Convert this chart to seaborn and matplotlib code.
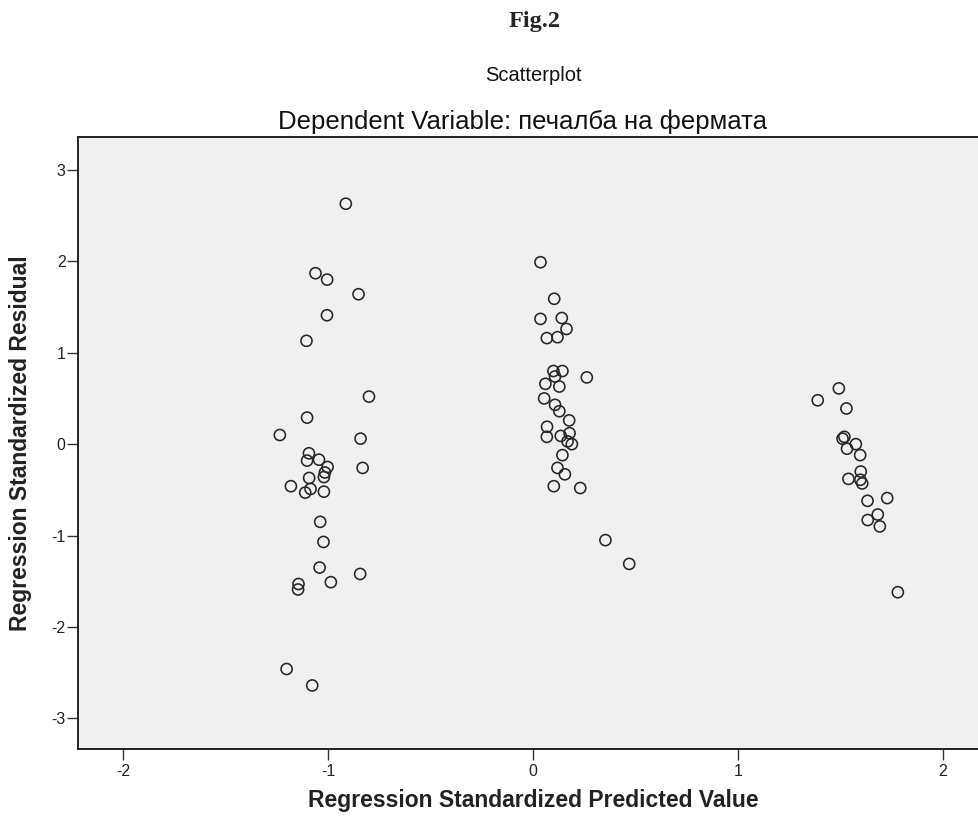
import matplotlib
matplotlib.use("Agg")
import matplotlib.pyplot as plt
import numpy as np
import pandas as pd
import seaborn as sns

# values, grouped by the three visible clusters
pred_low = [-0.914, -1.062, -1.005, -0.852, -1.006, -1.106, -0.801, -1.103, -1.236, -0.842,
            -1.094, -1.103, -1.045, -1.003, -1.016, -1.021, -1.093, -0.832, -1.182, -1.086,
            -1.112, -1.021, -1.039, -1.023, -1.042, -0.844, -0.987, -1.145, -1.147, -1.203, -1.078]
resid_low = [2.63, 1.87, 1.80, 1.64, 1.41, 1.13, 0.52, 0.29, 0.10, 0.06,
             -0.10, -0.18, -0.17, -0.25, -0.31, -0.36, -0.37, -0.26, -0.46, -0.49,
             -0.53, -0.52, -0.85, -1.07, -1.35, -1.42, -1.51, -1.53, -1.59, -2.46, -2.64]

pred_mid = [0.036, 0.103, 0.036, 0.140, 0.163, 0.067, 0.119, 0.099, 0.143, 0.262,
            0.107, 0.060, 0.128, 0.054, 0.107, 0.128, 0.176, 0.068, 0.067, 0.135,
            0.178, 0.168, 0.189, 0.143, 0.119, 0.155, 0.101, 0.230, 0.353, 0.469]
resid_mid = [1.99, 1.59, 1.37, 1.38, 1.26, 1.16, 1.17, 0.80, 0.80, 0.73,
             0.74, 0.66, 0.63, 0.50, 0.43, 0.36, 0.26, 0.19, 0.08, 0.09,
             0.12, 0.03, 0.00, -0.12, -0.26, -0.33, -0.46, -0.48, -1.05, -1.31]

pred_high = [1.492, 1.389, 1.529, 1.519, 1.510, 1.575, 1.532, 1.596, 1.599, 1.539,
             1.597, 1.606, 1.728, 1.632, 1.682, 1.633, 1.692, 1.780]
resid_high = [0.61, 0.48, 0.39, 0.08, 0.06, 0.00, -0.05, -0.12, -0.30, -0.38,
              -0.39, -0.43, -0.59, -0.62, -0.77, -0.83, -0.90, -1.62]

x_ticks = [-2, -1, 0, 1, 2]
y_ticks = [-3, -2, -1, 0, 1, 2, 3]

df = pd.DataFrame({
    "pred": pred_low + pred_mid + pred_high,
    "resid": resid_low + resid_mid + resid_high,
})

sns.set_style("white")
plt.rcParams['font.family'] = ['Liberation Sans', 'DejaVu Sans']
plt.rcParams['axes.unicode_minus'] = False

W, H = 979, 824
fig = plt.figure(figsize=(W / 100, H / 100), dpi=100)
ax = fig.add_axes([78 / W, 1 - 749 / H, 1 - 78 / W, (749 - 137) / H])
ax.set_facecolor("#f0f0f0")

sns.scatterplot(data=df, x="pred", y="resid", ax=ax, s=64,
                facecolor="none", edgecolor="#262626", linewidth=1.15)

ax.set_xlim(-2.221, 2.176)
ax.set_ylim(-3.335, 3.36)
ax.set_xticks(x_ticks)
ax.set_yticks(y_ticks)
ax.tick_params(axis="both", direction="out", length=8, width=1.0, color="#333333",
               labelsize=11.5, labelcolor="#222222", left=True, bottom=True)
ax.tick_params(axis="x", pad=3)
ax.tick_params(axis="y", pad=1)
for side in ["left", "bottom", "top"]:
    ax.spines[side].set_color("#222222")
    ax.spines[side].set_linewidth(1.4)
ax.spines["right"].set_visible(False)

ax.set_xlabel("Regression Standardized Predicted Value", fontsize=16.5,
              fontweight="bold", color="#222222")
ax.xaxis.set_label_coords((533 - 78) / 901, (749 - 789) / 612)
ax.set_ylabel("Regression Standardized Residual", fontsize=16.5,
              fontweight="bold", color="#222222")
ax.yaxis.set_label_coords((32 - 78) / 901, 0.5)

fig.text(535 / W, 1 - 27 / H, "Fig.2", fontsize=17.5, fontweight="bold",
         family=["Liberation Serif", "DejaVu Serif"], ha="center", va="baseline")
fig.text(533 / W, 1 - 81 / H, "Scatterplot", fontsize=14.5, ha="center", va="baseline",
         color="#111111")
fig.text(522 / W, 1 - 129 / H, "Dependent Variable: печалба на фермата", fontsize=18.5,
         ha="center", va="baseline", color="#111111")

fig.savefig("out.png", dpi=100)
